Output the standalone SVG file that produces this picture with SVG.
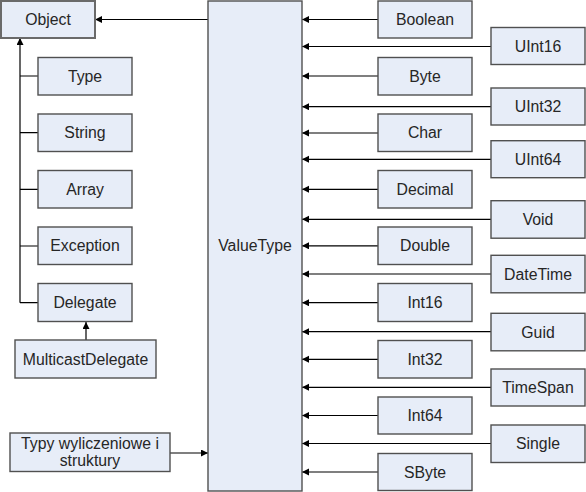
<svg xmlns="http://www.w3.org/2000/svg" width="586" height="492" viewBox="0 0 586 492">
<style>
.b{fill:#e7edf8;stroke:#505050;stroke-width:1.4}
.t{font-family:"Liberation Sans",Arial,sans-serif;font-size:15.8px;fill:#262626;text-anchor:middle}
.c{stroke:#000;stroke-width:1.2;fill:none}
</style>
<defs>
<marker id="a" markerUnits="userSpaceOnUse" markerWidth="8" markerHeight="8" refX="7" refY="3.5" orient="auto">
<path d="M0,0 L7,3.5 L0,7 z" fill="#000"/>
</marker>
</defs>
<rect width="586" height="492" fill="#fff"/>
<g id="connectors">
<path class="c" d="M208,19.5 H95" marker-end="url(#a)"/>
<path class="c" d="M20,302.7 V38" marker-end="url(#a)"/>
<path class="c" d="M38,76 H20 M38,132.7 H20 M38,189.3 H20 M38,246 H20 M38,302.7 H20"/>
<path class="c" d="M86,340 V322" marker-end="url(#a)"/>
<path class="c" d="M170,453 H208" marker-end="url(#a)"/>
<path class="c" d="M378,19.5 H302" marker-end="url(#a)"/>
<path class="c" d="M491,46.5 H302" marker-end="url(#a)"/>
<path class="c" d="M378,76 H302" marker-end="url(#a)"/>
<path class="c" d="M491,106.7 H302" marker-end="url(#a)"/>
<path class="c" d="M378,133 H302" marker-end="url(#a)"/>
<path class="c" d="M491,159.3 H302" marker-end="url(#a)"/>
<path class="c" d="M378,189.3 H302" marker-end="url(#a)"/>
<path class="c" d="M491,219.3 H302" marker-end="url(#a)"/>
<path class="c" d="M378,245.8 H302" marker-end="url(#a)"/>
<path class="c" d="M491,274 H302" marker-end="url(#a)"/>
<path class="c" d="M378,302.7 H302" marker-end="url(#a)"/>
<path class="c" d="M491,331.7 H302" marker-end="url(#a)"/>
<path class="c" d="M378,359.3 H302" marker-end="url(#a)"/>
<path class="c" d="M491,387.3 H302" marker-end="url(#a)"/>
<path class="c" d="M378,415.5 H302" marker-end="url(#a)"/>
<path class="c" d="M491,443.5 H302" marker-end="url(#a)"/>
<path class="c" d="M378,472 H302" marker-end="url(#a)"/>
</g>
<g id="Object"><rect class="b" x="1" y="1" width="94" height="37" style="stroke:#6a6a6a;stroke-width:2"/><text class="t" x="48" y="25">Object</text></g>
<g id="Type"><rect class="b" x="38" y="57.5" width="94" height="37.5"/><text class="t" x="85" y="81.5">Type</text></g>
<g id="String"><rect class="b" x="38" y="114" width="94" height="37.5"/><text class="t" x="85" y="138">String</text></g>
<g id="Array"><rect class="b" x="38" y="170.5" width="94" height="37.5"/><text class="t" x="85" y="194.5">Array</text></g>
<g id="Exception"><rect class="b" x="38" y="227" width="94" height="37.5"/><text class="t" x="85" y="251">Exception</text></g>
<g id="Delegate"><rect class="b" x="38" y="283.5" width="94" height="38"/><text class="t" x="85" y="308">Delegate</text></g>
<g id="MulticastDelegate"><rect class="b" x="15" y="340" width="141" height="38"/><text class="t" x="85.5" y="364.5">MulticastDelegate</text></g>
<g id="Typy"><rect class="b" x="10" y="433" width="160" height="38.5"/><text class="t" x="90" y="449">Typy wyliczeniowe i</text><text class="t" x="90" y="465.5">struktury</text></g>
<g id="ValueType"><rect class="b" x="208" y="1" width="94" height="490"/><text class="t" x="255" y="251">ValueType</text></g>
<g id="Boolean"><rect class="b" x="378" y="1" width="94" height="37"/><text class="t" x="425" y="25">Boolean</text></g>
<g id="Byte"><rect class="b" x="378" y="57.5" width="94" height="37.5"/><text class="t" x="425" y="81.5">Byte</text></g>
<g id="Char"><rect class="b" x="378" y="114" width="94" height="37.5"/><text class="t" x="425" y="138">Char</text></g>
<g id="Decimal"><rect class="b" x="378" y="170.5" width="94" height="37.5"/><text class="t" x="425" y="194.5">Decimal</text></g>
<g id="Double"><rect class="b" x="378" y="227" width="94" height="37.5"/><text class="t" x="425" y="251">Double</text></g>
<g id="Int16"><rect class="b" x="378" y="283.5" width="94" height="38"/><text class="t" x="425" y="308">Int16</text></g>
<g id="Int32"><rect class="b" x="378" y="340.5" width="94" height="37.5"/><text class="t" x="425" y="364.5">Int32</text></g>
<g id="Int64"><rect class="b" x="378" y="397" width="94" height="37"/><text class="t" x="425" y="421">Int64</text></g>
<g id="SByte"><rect class="b" x="378" y="453.5" width="94" height="37"/><text class="t" x="425" y="477.5">SByte</text></g>
<g id="UInt16"><rect class="b" x="491" y="27.5" width="94" height="37"/><text class="t" x="538" y="51.5">UInt16</text></g>
<g id="UInt32"><rect class="b" x="491" y="88" width="94" height="37"/><text class="t" x="538" y="112">UInt32</text></g>
<g id="UInt64"><rect class="b" x="491" y="140.7" width="94" height="37"/><text class="t" x="538" y="164.7">UInt64</text></g>
<g id="Void"><rect class="b" x="491" y="200.7" width="94" height="37.5"/><text class="t" x="538" y="225">Void</text></g>
<g id="DateTime"><rect class="b" x="491" y="255.3" width="94" height="37.5"/><text class="t" x="538" y="279.5">DateTime</text></g>
<g id="Guid"><rect class="b" x="491" y="313.3" width="94" height="37.5"/><text class="t" x="538" y="337.5">Guid</text></g>
<g id="TimeSpan"><rect class="b" x="491" y="369" width="94" height="37"/><text class="t" x="538" y="393">TimeSpan</text></g>
<g id="Single"><rect class="b" x="491" y="425" width="94" height="37.5"/><text class="t" x="538" y="449.3">Single</text></g>
</svg>
